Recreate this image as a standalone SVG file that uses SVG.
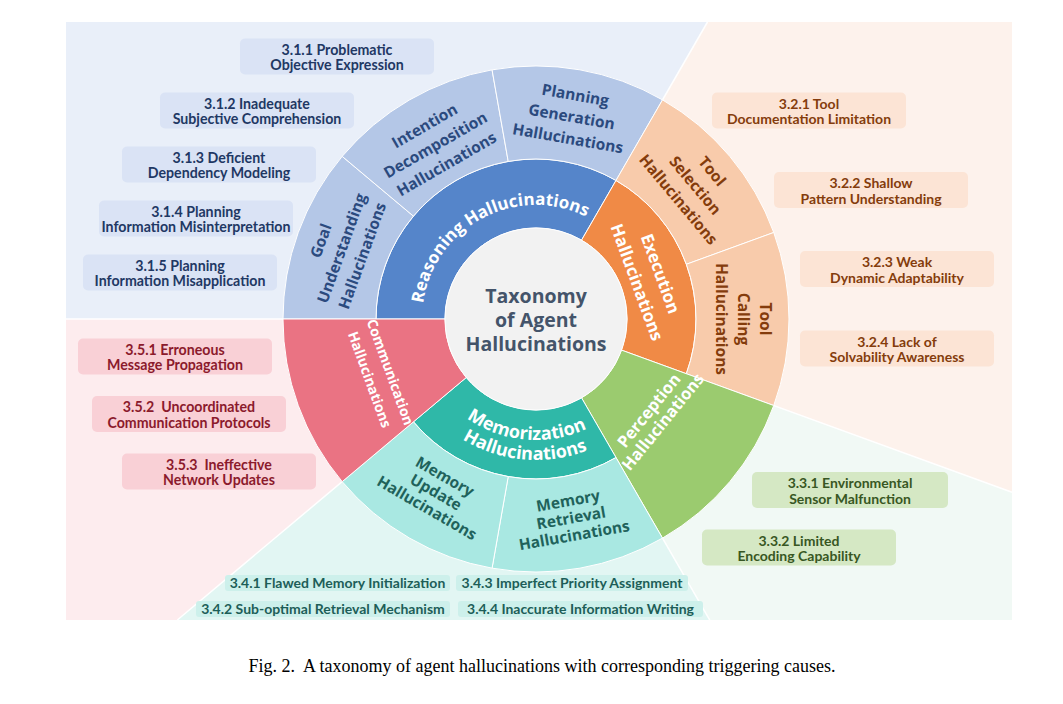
<svg xmlns="http://www.w3.org/2000/svg" width="1063" height="704" viewBox="0 0 1063 704">
<defs>
<style>
.sep{stroke:#ffffff;stroke-width:1.5;fill:none}
.sec{stroke:#ffffff;stroke-width:1}
.box{stroke:none}
.lbl{font-family:Lato,"Liberation Sans",sans-serif;font-weight:700;font-size:14.2px;text-anchor:middle}
.lbl14{font-family:Lato,"Liberation Sans",sans-serif;font-weight:700;font-size:14px;text-anchor:middle}
.ring{font-family:"Open Sans","Noto Sans",sans-serif;font-weight:700;font-size:15.5px;text-anchor:middle}
.inner{font-family:"Open Sans","Noto Sans",sans-serif;font-weight:700;font-size:17px;fill:#ffffff;text-anchor:middle}
.bt{fill:#2b4a7e}.pt{fill:#843c0c}.mt{fill:#1f625b}
</style>
<path id="arcReason" d="M 431.06,363.54 A 114 114 0 0 1 631.61,256.91"/>
<path id="arcMem1" d="M 415,319 A 121 121 0 0 0 655.16,340.01"/>
<path id="arcMem2" d="M 395,319 A 141 141 0 0 0 674.86,343.48"/>
</defs>
<rect width="1063" height="704" fill="#ffffff"/>
<g id="background">
<polygon points="536,319 66,319 66,22 707.5,22" fill="#e9eff9"/>
<polygon points="536,319 707.5,22 1012,22 1012,492.25" fill="#fdf2ec"/>
<polygon points="536,319 1012,492.25 1012,620 709.78,620" fill="#f1f9f5"/>
<polygon points="536,319 709.78,620 177.3,620 " fill="#e2f6f3"/>
<polygon points="536,319 177.3,620 66,620 66,319" fill="#fdecee"/>
</g>
<g id="dividers">
<line class="sep" x1="536" y1="319" x2="66" y2="319"/>
<line class="sep" x1="536" y1="319" x2="707.5" y2="22"/>
<line class="sep" x1="536" y1="319" x2="1012" y2="492.25"/>
<line class="sep" x1="536" y1="319" x2="709.78" y2="620"/>
<line class="sep" x1="536" y1="319" x2="177.3" y2="620"/>
</g>
<g id="reasoning">
<path class="sec" fill="#5585ca" d="M 376,319 A 160 160 0 0 1 616,180.44 L 581.5,240.19 A 91 91 0 0 0 445,319 Z"/>
<text class="inner"><textPath href="#arcReason" startOffset="50%">Reasoning Hallucinations</textPath></text>
</g>
<g id="goal-understanding">
<path class="sec" fill="#b4c7e7" d="M 283,319 A 253 253 0 0 1 342.19,156.37 L 413.43,216.15 A 160 160 0 0 0 376,319 Z"/>
<g class="ring bt" transform="translate(341.48,248.2) rotate(-70)"><text y="-16.5">Goal</text><text y="5.5">Understanding</text><text y="27.5">Hallucinations</text></g>
</g>
<g id="intention-decomposition">
<path class="sec" fill="#b4c7e7" d="M 342.19,156.37 A 253 253 0 0 1 492.07,69.84 L 508.22,161.43 A 160 160 0 0 0 413.43,216.15 Z"/>
<g class="ring bt" transform="translate(435.5,144.93) rotate(-30)"><text y="-16.5">Intention</text><text y="5.5">Decomposition</text><text y="27.5">Hallucinations</text></g>
</g>
<g id="planning-generation">
<path class="sec" fill="#b4c7e7" d="M 492.07,69.84 A 253 253 0 0 1 662.5,99.89 L 616,180.44 A 160 160 0 0 0 508.22,161.43 Z"/>
<g class="ring bt" transform="translate(571.68,116.62) rotate(10)"><text y="-16.5">Planning</text><text y="5.5">Generation</text><text y="27.5">Hallucinations</text></g>
</g>
<g id="execution">
<path class="sec" fill="#f08a46" d="M 616,180.44 A 160 160 0 0 1 686.35,373.72 L 621.51,350.12 A 91 91 0 0 0 581.5,240.19 Z"/>
<g class="inner" transform="translate(648.76,277.96) rotate(70)"><text y="-6.5">Execution</text><text y="18.5">Hallucinations</text></g>
</g>
<g id="tool-selection">
<path class="sec" fill="#f8cbab" d="M 662.5,99.89 A 253 253 0 0 1 773.74,232.47 L 686.35,264.28 A 160 160 0 0 0 616,180.44 Z"/>
<g class="ring pt" transform="translate(695.34,185.3) rotate(50)"><text y="-16.5">Tool</text><text y="5.5">Selection</text><text y="27.5">Hallucinations</text></g>
</g>
<g id="tool-calling">
<path class="sec" fill="#f8cbab" d="M 773.74,232.47 A 253 253 0 0 1 773.74,405.53 L 686.35,373.72 A 160 160 0 0 0 686.35,264.28 Z"/>
<g class="ring pt" transform="translate(743,319) rotate(90)"><text y="-16.5">Tool</text><text y="5.5">Calling</text><text y="27.5">Hallucinations</text></g>
</g>
<g id="perception">
<path class="sec" fill="#9bcb6f" d="M 773.74,405.53 A 253 253 0 0 1 662.5,538.11 L 581.5,397.81 A 91 91 0 0 0 621.51,350.12 Z"/>
<g class="inner" style="font-size:16.5px" transform="translate(655.7,416) rotate(-51)"><text y="-3">Perception</text><text y="15">Hallucinations</text></g>
</g>
<g id="memorization">
<path class="sec" fill="#2fb8a8" d="M 616,457.56 A 160 160 0 0 1 413.43,421.85 L 466.29,377.49 A 91 91 0 0 0 581.5,397.81 Z"/>
<text class="inner" style="font-size:18px"><textPath href="#arcMem1" startOffset="50%">Memorization</textPath></text>
<text class="inner" style="font-size:18px"><textPath href="#arcMem2" startOffset="50%">Hallucinations</textPath></text>
</g>
<g id="memory-retrieval">
<path class="sec" fill="#a9e8e2" d="M 662.5,538.11 A 253 253 0 0 1 492.07,568.16 L 508.22,476.57 A 160 160 0 0 0 616,457.56 Z"/>
<g class="ring mt" transform="translate(571.08,517.93) rotate(-10)"><text y="-12">Memory</text><text y="5.5">Retrieval</text><text y="23">Hallucinations</text></g>
</g>
<g id="memory-update">
<path class="sec" fill="#a9e8e2" d="M 492.07,568.16 A 253 253 0 0 1 342.19,481.63 L 413.43,421.85 A 160 160 0 0 0 508.22,476.57 Z"/>
<g class="ring mt" transform="translate(436,492.21) rotate(30)"><text y="-12.5">Memory</text><text y="5.5">Update</text><text y="23.5">Hallucinations</text></g>
</g>
<g id="communication">
<path class="sec" fill="#ea7383" d="M 342.19,481.63 A 253 253 0 0 1 283,319 L 445,319 A 91 91 0 0 0 466.29,377.49 Z"/>
<g class="inner" style="font-size:14px" transform="translate(380.01,375.78) rotate(70)"><text y="-6">Communication</text><text y="16">Hallucinations</text></g>
</g>
<g id="center">
<circle cx="536" cy="319" r="91" fill="#f2f2f2" stroke="#ffffff" stroke-width="1"/>
<g style="font-family:'Open Sans','Noto Sans',sans-serif;font-weight:700;font-size:19.5px;fill:#44546a;text-anchor:middle">
<text x="536" y="303">Taxonomy</text><text x="536" y="327">of Agent</text><text x="536" y="351">Hallucinations</text>
</g>
</g>
<g id="cause-3-1-1"><rect class="box" x="240" y="38.5" width="194" height="36" rx="5" fill="#dae3f5"/><text class="lbl" fill="#1f3864" x="337" y="54.5">3.1.1 Problematic</text><text class="lbl" fill="#1f3864" x="337" y="70">Objective Expression</text></g>
<g id="cause-3-1-2"><rect class="box" x="160" y="92.5" width="194" height="36" rx="5" fill="#dae3f5"/><text class="lbl" fill="#1f3864" x="257" y="108.5">3.1.2 Inadequate</text><text class="lbl" fill="#1f3864" x="257" y="124">Subjective Comprehension</text></g>
<g id="cause-3-1-3"><rect class="box" x="122" y="146.5" width="194" height="36" rx="5" fill="#dae3f5"/><text class="lbl" fill="#1f3864" x="219" y="162.5">3.1.3 Deficient</text><text class="lbl" fill="#1f3864" x="219" y="178">Dependency Modeling</text></g>
<g id="cause-3-1-4"><rect class="box" x="99" y="200.5" width="194" height="36" rx="5" fill="#dae3f5"/><text class="lbl" fill="#1f3864" x="196" y="216.5">3.1.4 Planning</text><text class="lbl" fill="#1f3864" x="196" y="232">Information Misinterpretation</text></g>
<g id="cause-3-1-5"><rect class="box" x="83" y="254.5" width="194" height="36" rx="5" fill="#dae3f5"/><text class="lbl" fill="#1f3864" x="180" y="270.5">3.1.5 Planning</text><text class="lbl" fill="#1f3864" x="180" y="286">Information Misapplication</text></g>
<g id="cause-3-2-1"><rect class="box" x="712" y="92.5" width="194" height="36" rx="5" fill="#fce4d5"/><text class="lbl14" fill="#843c0c" x="809" y="108.5">3.2.1 Tool</text><text class="lbl14" fill="#843c0c" x="809" y="124">Documentation Limitation</text></g>
<g id="cause-3-2-2"><rect class="box" x="774" y="172" width="194" height="36" rx="5" fill="#fce4d5"/><text class="lbl14" fill="#843c0c" x="871" y="188">3.2.2 Shallow</text><text class="lbl14" fill="#843c0c" x="871" y="203.5">Pattern Understanding</text></g>
<g id="cause-3-2-3"><rect class="box" x="800" y="251" width="194" height="36" rx="5" fill="#fce4d5"/><text class="lbl14" fill="#843c0c" x="897" y="267">3.2.3 Weak</text><text class="lbl14" fill="#843c0c" x="897" y="282.5">Dynamic Adaptability</text></g>
<g id="cause-3-2-4"><rect class="box" x="800" y="330.5" width="194" height="36" rx="5" fill="#fce4d5"/><text class="lbl14" fill="#843c0c" x="897" y="346.5">3.2.4 Lack of</text><text class="lbl14" fill="#843c0c" x="897" y="362">Solvability Awareness</text></g>
<g id="cause-3-3-1"><rect class="box" x="752" y="472" width="196" height="36" rx="5" fill="#d5e8c4"/><text class="lbl14" fill="#385723" x="850" y="488">3.3.1 Environmental</text><text class="lbl14" fill="#385723" x="850" y="503.5">Sensor Malfunction</text></g>
<g id="cause-3-3-2"><rect class="box" x="702" y="529.5" width="194" height="36" rx="5" fill="#d5e8c4"/><text class="lbl14" fill="#385723" x="799" y="545.5">3.3.2 Limited</text><text class="lbl14" fill="#385723" x="799" y="561">Encoding Capability</text></g>
<g id="cause-3-4-1"><rect class="box" x="225" y="575" width="225" height="16" rx="3" fill="#cdf0eb"/><text class="lbl14" fill="#1d5e58" x="337.5" y="588">3.4.1 Flawed Memory Initialization</text></g>
<g id="cause-3-4-2"><rect class="box" x="196" y="601" width="254" height="16" rx="3" fill="#cdf0eb"/><text class="lbl14" fill="#1d5e58" x="323" y="614">3.4.2 Sub-optimal Retrieval Mechanism</text></g>
<g id="cause-3-4-3"><rect class="box" x="456" y="575" width="232" height="16" rx="3" fill="#cdf0eb"/><text class="lbl14" fill="#1d5e58" x="572" y="588">3.4.3 Imperfect Priority Assignment</text></g>
<g id="cause-3-4-4"><rect class="box" x="458" y="601" width="245" height="16" rx="3" fill="#cdf0eb"/><text class="lbl14" fill="#1d5e58" x="580.5" y="614">3.4.4 Inaccurate Information Writing</text></g>
<g id="cause-3-5-1"><rect class="box" x="78" y="338.5" width="194" height="36" rx="5" fill="#f9d0d6"/><text class="lbl" fill="#8b1a2c" x="175" y="354.5">3.5.1 Erroneous</text><text class="lbl" fill="#8b1a2c" x="175" y="370">Message Propagation</text></g>
<g id="cause-3-5-2"><rect class="box" x="92" y="396" width="194" height="36" rx="5" fill="#f9d0d6"/><text class="lbl" fill="#8b1a2c" x="189" y="412" style="white-space:pre">3.5.2  Uncoordinated</text><text class="lbl" fill="#8b1a2c" x="189" y="427.5">Communication Protocols</text></g>
<g id="cause-3-5-3"><rect class="box" x="122" y="453.5" width="194" height="36" rx="5" fill="#f9d0d6"/><text class="lbl" fill="#8b1a2c" x="219" y="469.5" style="white-space:pre">3.5.3  Ineffective</text><text class="lbl" fill="#8b1a2c" x="219" y="485">Network Updates</text></g>
<text x="542" y="672" style="font-family:'Liberation Serif','DejaVu Serif',serif;font-size:18px;fill:#000000;text-anchor:middle;white-space:pre">Fig. 2.  A taxonomy of agent hallucinations with corresponding triggering causes.</text>
</svg>
